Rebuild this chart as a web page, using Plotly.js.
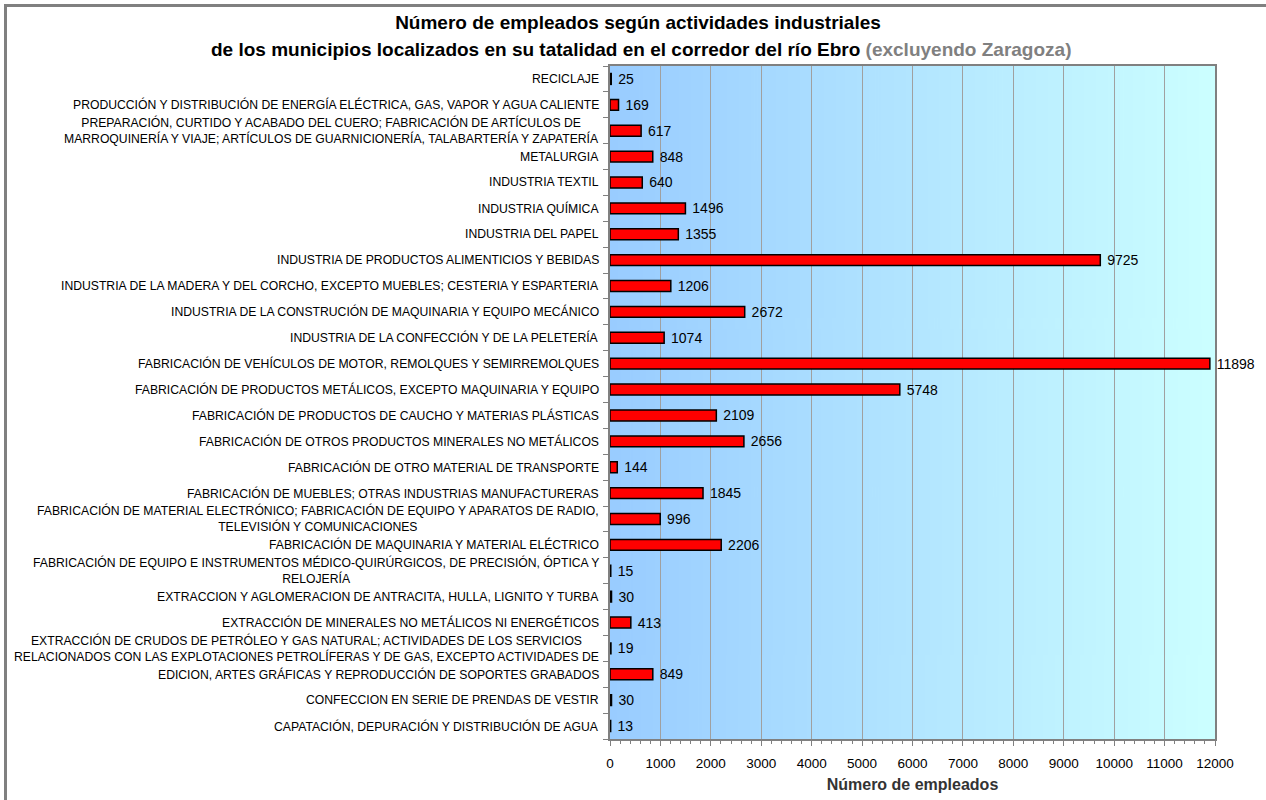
<!DOCTYPE html>
<html>
<head>
<meta charset="utf-8">
<script src="https://cdn.plot.ly/plotly-3.0.1.min.js"></script>
<style>
  html, body { margin: 0; padding: 0; background: #ffffff; overflow: hidden; }
  #wrap { position: relative; width: 1266px; height: 800px; }
  #chart { width: 1266px; height: 800px; }
  #frame { position: absolute; left: 4px; top: 4px; width: 1400px; height: 900px;
           border-left: 3px solid #808080; border-top: 3px solid #808080; pointer-events: none; }
</style>
</head>
<body>
<div id="wrap">
  <div id="chart"></div>
  <div id="frame"></div>
</div>
<script>
// ---- Data ----
const categories = [
  "RECICLAJE",
  "PRODUCCIÓN Y DISTRIBUCIÓN DE ENERGÍA ELÉCTRICA, GAS, VAPOR Y AGUA CALIENTE",
  "PREPARACIÓN, CURTIDO Y ACABADO DEL CUERO; FABRICACIÓN DE ARTÍCULOS DE<br>MARROQUINERÍA Y VIAJE; ARTÍCULOS DE GUARNICIONERÍA, TALABARTERÍA Y ZAPATERÍA",
  "METALURGIA",
  "INDUSTRIA TEXTIL",
  "INDUSTRIA QUÍMICA",
  "INDUSTRIA DEL PAPEL",
  "INDUSTRIA DE PRODUCTOS ALIMENTICIOS Y BEBIDAS",
  "INDUSTRIA DE LA MADERA Y DEL CORCHO, EXCEPTO MUEBLES; CESTERIA Y ESPARTERIA",
  "INDUSTRIA DE LA CONSTRUCIÓN DE MAQUINARIA Y EQUIPO MECÁNICO",
  "INDUSTRIA DE LA CONFECCIÓN Y DE LA PELETERÍA",
  "FABRICACIÓN DE VEHÍCULOS DE MOTOR, REMOLQUES Y SEMIRREMOLQUES",
  "FABRICACIÓN DE PRODUCTOS METÁLICOS, EXCEPTO MAQUINARIA Y EQUIPO",
  "FABRICACIÓN DE PRODUCTOS DE CAUCHO Y MATERIAS PLÁSTICAS",
  "FABRICACIÓN DE OTROS PRODUCTOS MINERALES NO METÁLICOS",
  "FABRICACIÓN DE OTRO MATERIAL DE TRANSPORTE",
  "FABRICACIÓN DE MUEBLES; OTRAS INDUSTRIAS MANUFACTURERAS",
  "FABRICACIÓN DE MATERIAL ELECTRÓNICO; FABRICACIÓN DE EQUIPO Y APARATOS DE RADIO,<br>TELEVISIÓN Y COMUNICACIONES",
  "FABRICACIÓN DE MAQUINARIA Y MATERIAL ELÉCTRICO",
  "FABRICACIÓN DE EQUIPO E INSTRUMENTOS MÉDICO-QUIRÚRGICOS, DE PRECISIÓN, ÓPTICA Y<br>RELOJERÍA",
  "EXTRACCION Y AGLOMERACION DE ANTRACITA, HULLA, LIGNITO Y TURBA",
  "EXTRACCIÓN DE MINERALES NO METÁLICOS NI ENERGÉTICOS",
  "EXTRACCIÓN DE CRUDOS DE PETRÓLEO Y GAS NATURAL; ACTIVIDADES DE LOS SERVICIOS<br>RELACIONADOS CON LAS EXPLOTACIONES PETROLÍFERAS Y DE GAS, EXCEPTO ACTIVIDADES DE",
  "EDICION, ARTES GRÁFICAS Y REPRODUCCIÓN DE SOPORTES GRABADOS",
  "CONFECCION EN SERIE DE PRENDAS DE VESTIR",
  "CAPATACIÓN, DEPURACIÓN Y DISTRIBUCIÓN DE AGUA"
];
const empleados = [25, 169, 617, 848, 640, 1496, 1355, 9725, 1206, 2672, 1074, 11898, 5748, 2109, 2656, 144, 1845, 996, 2206, 15, 30, 413, 19, 849, 30, 13];
const xTicks = [0, 1000, 2000, 3000, 4000, 5000, 6000, 7000, 8000, 9000, 10000, 11000, 12000];

const titleLine1 = "Número de empleados según actividades industriales";
const titleLine2 = "de los municipios localizados en su tatalidad en el corredor del río Ebro";
const titleNote = "(excluyendo Zaragoza)";
const xTitle = "Número de empleados";

// ---- Gradient background image for plot area ----
const cv = document.createElement('canvas');
cv.width = 400; cv.height = 4;
const ctx = cv.getContext('2d');
const g = ctx.createLinearGradient(0, 0, 400, 0);
g.addColorStop(0, '#99CCFF');
g.addColorStop(1, '#CCFFFF');
ctx.fillStyle = g;
ctx.fillRect(0, 0, 400, 4);
const bgURL = cv.toDataURL('image/png');

const FONT = '"Liberation Sans", Arial, sans-serif';

const trace = {
  type: 'bar',
  orientation: 'h',
  y: categories.map((c, i) => i),
  x: empleados,
  text: empleados.map(v => ' ' + String(v)),
  textposition: 'outside',
  constraintext: 'none',
  textfont: { family: FONT, size: 14, color: '#000000' },
  cliponaxis: false,
  marker: { color: '#FF0000', line: { color: '#000000', width: 1.5 } },
  hoverinfo: 'x+y'
};

const labelAnnotations = categories.map((c, i) => ({
  xref: 'x', yref: 'y', x: 0, y: i,
  text: c, showarrow: false,
  xanchor: 'right', yanchor: 'middle', align: 'center',
  xshift: -9,
  font: { family: FONT, size: 12.2, color: '#000000' }
}));

const layout = {
  width: 1266, height: 800,
  paper_bgcolor: '#ffffff',
  plot_bgcolor: 'rgba(0,0,0,0)',
  margin: { l: 610, r: 51, t: 66, b: 61 },
  showlegend: false,
  bargap: 0.58,
  font: { family: FONT, color: '#000000' },
  title: {
    text: '<b>' + titleLine1 + '</b>',
    font: { family: FONT, size: 19, color: '#000000' },
    xref: 'container', x: 638 / 1266, xanchor: 'center',
    yref: 'container', y: 1 - 22 / 800, yanchor: 'middle'
  },
  xaxis: {
    range: [0, 12000],
    tickvals: xTicks,
    ticktext: xTicks.map(String),
    tickfont: { family: FONT, size: 13.5, color: '#000000' },
    ticks: 'outside', ticklen: 5, tickcolor: '#808080', tickwidth: 1,
    ticklabelstandoff: 6,
    minor: { dtick: 200, ticks: 'outside', ticklen: 3, tickcolor: '#808080', showgrid: false },
    showgrid: true, gridcolor: '#A0A0A0', gridwidth: 1,
    showline: true, linecolor: '#808080', linewidth: 2, mirror: true,
    zeroline: false,
    title: { text: '<b>' + xTitle + '</b>', font: { family: FONT, size: 16, color: '#333333' }, standoff: 9 }
  },
  yaxis: {
    type: 'linear',
    range: [categories.length - 0.5, -0.5],
    tickvals: categories.map((c, i) => i - 0.5).concat([categories.length - 0.5]),
    showticklabels: false,
    ticks: 'outside', ticklen: 5, tickcolor: '#808080', tickwidth: 1,
    showgrid: false, zeroline: false,
    showline: true, linecolor: '#808080', linewidth: 2, mirror: true
  },
  images: [{
    source: bgURL, xref: 'paper', yref: 'paper', x: 0, y: 1, sizex: 1, sizey: 1,
    sizing: 'stretch', xanchor: 'left', yanchor: 'top', layer: 'below'
  }],
  annotations: labelAnnotations.concat([{
    xref: 'paper', yref: 'paper',
    x: (641 - 610) / 605, y: (739 - 49) / 673,
    xanchor: 'center', yanchor: 'middle', showarrow: false,
    text: '<b>' + titleLine2 + ' <span style="color:#808080">' + titleNote + '</span></b>',
    font: { family: FONT, size: 19, color: '#000000' }
  }])
};

Plotly.newPlot('chart', [trace], layout, { displayModeBar: false, staticPlot: true });
</script>
</body>
</html>
